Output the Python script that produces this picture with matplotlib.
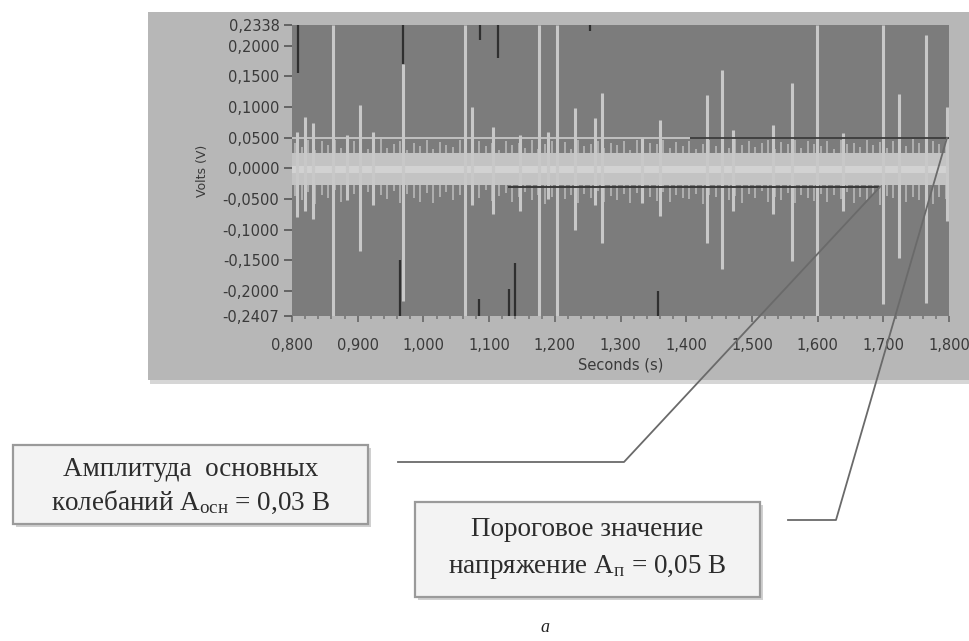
import numpy as np
import matplotlib
matplotlib.use("Agg")
import matplotlib.pyplot as plt
from matplotlib.patches import Rectangle
from matplotlib.lines import Line2D
from matplotlib.ticker import FixedLocator, MultipleLocator

plt.rcParams["mathtext.fontset"] = "custom"
plt.rcParams["mathtext.rm"] = "Liberation Serif"
plt.rcParams["mathtext.it"] = "Liberation Serif:italic"

# ---- data -------------------------------------------------------------
y_ticks = [0.2338, 0.2000, 0.1500, 0.1000, 0.0500, 0.0000,
           -0.0500, -0.1000, -0.1500, -0.2000, -0.2407]
y_labels = ["0,2338", "0,2000", "0,1500", "0,1000", "0,0500", "0,0000",
            "-0,0500", "-0,1000", "-0,1500", "-0,2000", "-0,2407"]
x_ticks = [0.8, 0.9, 1.0, 1.1, 1.2, 1.3, 1.4, 1.5, 1.6, 1.7, 1.8]
x_labels = ["0,800", "0,900", "1,000", "1,100", "1,200", "1,300",
            "1,400", "1,500", "1,600", "1,700", "1,800"]

# main impulses: time, upper and lower extent (V)
spike_t = [0.808, 0.820, 0.832, 0.862, 0.884, 0.904, 0.923, 0.969, 1.063,
           1.074, 1.106, 1.147, 1.176, 1.190, 1.203, 1.231, 1.261, 1.272,
           1.333, 1.360, 1.432, 1.455, 1.471, 1.532, 1.561, 1.599, 1.639,
           1.700, 1.724, 1.765, 1.797]
spike_hi = [0.060, 0.083, 0.074, 0.2338, 0.055, 0.103, 0.060, 0.170, 0.2338,
            0.100, 0.067, 0.054, 0.2338, 0.060, 0.2338, 0.098, 0.082, 0.123,
            0.050, 0.079, 0.120, 0.160, 0.062, 0.070, 0.139, 0.2338, 0.057,
            0.2338, 0.122, 0.218, 0.100]
spike_lo = [-0.080, -0.069, -0.082, -0.2407, -0.052, -0.134, -0.060, -0.216,
            -0.2407, -0.060, -0.074, -0.069, -0.2407, -0.050, -0.2407, -0.101,
            -0.060, -0.121, -0.057, -0.077, -0.121, -0.164, -0.069, -0.074,
            -0.151, -0.2407, -0.069, -0.221, -0.146, -0.219, -0.085]

# dark (negative-colour) fragments: time, start, end (V)
dark_t = [0.809, 0.969, 1.086, 1.114, 1.254, 0.964, 1.085, 1.130, 1.139, 1.357]
dark_a = [0.2338, 0.2338, 0.2338, 0.2338, 0.2338, -0.150, -0.213, -0.196, -0.155, -0.200]
dark_b = [0.155, 0.170, 0.210, 0.180, 0.224, -0.2407, -0.2407, -0.2407, -0.2407, -0.2407]

# ragged edge of the background oscillation band
fringe_t = np.arange(0.805, 1.800, 0.01)
fringe_hi = [0.042, 0.035, 0.046, 0.030, 0.044, 0.038, 0.047, 0.033, 0.040, 0.045,
             0.036, 0.031, 0.043, 0.048, 0.034, 0.039, 0.045, 0.030, 0.041, 0.037,
             0.046, 0.032, 0.043, 0.038, 0.035, 0.047, 0.040, 0.033, 0.044, 0.036,
             0.041, 0.030, 0.045, 0.038, 0.042, 0.034, 0.046, 0.031, 0.039, 0.044,
             0.037, 0.043, 0.032, 0.047, 0.036, 0.040, 0.045, 0.033, 0.041, 0.038,
             0.044, 0.030, 0.046, 0.035, 0.042, 0.039, 0.047, 0.034, 0.043, 0.037,
             0.045, 0.031, 0.040, 0.046, 0.036, 0.042, 0.033, 0.048, 0.038, 0.044,
             0.035, 0.041, 0.047, 0.032, 0.043, 0.039, 0.046, 0.034, 0.045, 0.040,
             0.037, 0.044, 0.031, 0.046, 0.039, 0.042, 0.035, 0.047, 0.038, 0.043,
             0.033, 0.045, 0.040, 0.036, 0.048, 0.041, 0.034, 0.044, 0.039, 0.046]
fringe_lo = [-0.045, -0.052, -0.038, -0.058, -0.043, -0.049, -0.036, -0.055, -0.047, -0.041,
             -0.053, -0.039, -0.060, -0.044, -0.050, -0.037, -0.056, -0.042, -0.048, -0.054,
             -0.040, -0.057, -0.046, -0.038, -0.051, -0.044, -0.059, -0.041, -0.049, -0.036,
             -0.053, -0.045, -0.040, -0.055, -0.047, -0.038, -0.052, -0.043, -0.058, -0.046,
             -0.039, -0.050, -0.044, -0.056, -0.041, -0.048, -0.037, -0.054, -0.045, -0.051,
             -0.042, -0.057, -0.040, -0.049, -0.046, -0.053, -0.038, -0.055, -0.043, -0.048,
             -0.050, -0.041, -0.058, -0.044, -0.047, -0.039, -0.052, -0.045, -0.056, -0.042,
             -0.049, -0.037, -0.054, -0.046, -0.051, -0.040, -0.057, -0.043, -0.048, -0.053,
             -0.041, -0.055, -0.044, -0.050, -0.038, -0.056, -0.046, -0.052, -0.042, -0.059,
             -0.045, -0.049, -0.040, -0.054, -0.047, -0.051, -0.043, -0.058, -0.046, -0.050]
band_hi, band_lo = 0.025, -0.027

threshold = 0.05          # Aп
threshold_split = 1.406
base_amp = -0.03          # Aосн
base_span = (1.129, 1.695)

# ---- figure ------------------------------------------------------------
W, H = 970, 641
fig = plt.figure(figsize=(W / 100, H / 100), dpi=100)
fig.patch.set_facecolor("white")


def fx(x):
    return x / W


def fy(y):
    return 1 - y / H


# grey instrument panel with a soft shadow
fig.add_artist(Rectangle((fx(150), fy(384)), fx(830), 372 / H,
                         transform=fig.transFigure, facecolor="#d6d6d6",
                         edgecolor="none", zorder=-2))
fig.add_artist(Rectangle((fx(148), fy(380)), fx(830), 368 / H,
                         transform=fig.transFigure, facecolor="#b7b7b7",
                         edgecolor="none", zorder=-1))

ax = fig.add_axes([fx(292), fy(316), 657 / W, 291 / H])
ax.set_facecolor("#7c7c7c")
ax.set_xlim(0.8, 1.8)
ax.set_ylim(-0.2407, 0.2338)

# background oscillation band
ax.vlines(fringe_t, 0, fringe_hi, colors="#b4b4b4", lw=1.3, zorder=1)
ax.vlines(fringe_t, 0, fringe_lo, colors="#b4b4b4", lw=1.3, zorder=1)
ax.fill_between([0.8, 1.8], band_lo, band_hi, color="#c3c3c3", lw=0, zorder=2)
ax.fill_between([0.8, 1.8], -0.008, 0.004, color="#d2d2d2", lw=0, zorder=2)

# impulses
ax.vlines(spike_t, 0, spike_hi, colors="#c8c8c8", lw=2.2, zorder=3)
ax.vlines(spike_t, 0, spike_lo, colors="#c8c8c8", lw=2.2, zorder=3)
ax.vlines(dark_t, dark_a, dark_b, colors="#2f2f2f", lw=1.6, zorder=4)

# threshold and base amplitude levels
ax.hlines(threshold, 0.8, threshold_split, colors="#c6c6c6", lw=1.3, zorder=5)
ax.hlines(threshold, threshold_split, 1.8, colors="#3c3c3c", lw=1.3, zorder=5)
ax.hlines(base_amp, *base_span, colors="#3a3a3a", lw=1.4, zorder=5)

for s in ax.spines.values():
    s.set_visible(False)

ax.yaxis.set_major_locator(FixedLocator(y_ticks))
ax.set_yticklabels(y_labels)
ax.xaxis.set_major_locator(FixedLocator(x_ticks))
ax.set_xticklabels(x_labels)
ax.xaxis.set_minor_locator(MultipleLocator(0.02))
ax.tick_params(axis="y", length=6, width=1.2, color="#555555", pad=3,
               labelsize=10.5, labelcolor="#3a3a3a")
ax.tick_params(axis="x", which="major", length=4, width=1.2, color="#666666",
               pad=12, labelsize=10.5, labelcolor="#3a3a3a")
ax.tick_params(axis="x", which="minor", length=2.5, width=1.2, color="#777777")
ax.set_ylabel("Volts (V)", fontsize=9, color="#3a3a3a", labelpad=10)
ax.set_xlabel("Seconds (s)", fontsize=10.5, color="#3a3a3a", labelpad=3)

# ---- callouts ------------------------------------------------------------
to_fig = fig.transFigure.inverted()


def data_to_fig(x, y):
    return to_fig.transform(ax.transData.transform((x, y)))


def callout(start_px, knee_px, data_pt):
    end = data_to_fig(*data_pt)
    xs = [fx(start_px[0]), fx(knee_px[0]), end[0]]
    ys = [fy(start_px[1]), fy(knee_px[1]), end[1]]
    fig.add_artist(Line2D(xs, ys, transform=fig.transFigure, color="#6a6a6a",
                          lw=1.3, zorder=6))


callout((398, 462), (624, 462), (base_span[1], base_amp))
callout((788, 520), (836, 520), (1.797, threshold))


def box(x0, y0, x1, y1, lines):
    fig.add_artist(Rectangle((fx(x0 + 3), fy(y1 + 3)), fx(x1 - x0), (y1 - y0) / H,
                             transform=fig.transFigure, facecolor="#d0d0d0",
                             edgecolor="none", zorder=6))
    fig.add_artist(Rectangle((fx(x0), fy(y1)), fx(x1 - x0), (y1 - y0) / H,
                             transform=fig.transFigure, facecolor="#f3f3f3",
                             edgecolor="#9a9a9a", lw=1.6, zorder=7))
    cx = (x0 + x1) / 2
    for ty, txt in lines:
        fig.text(fx(cx), fy(ty), txt, ha="center", va="center", fontsize=19.5,
                 family="Liberation Serif", color="#2c2c2c", zorder=8)


box(13, 445, 368, 524, [(470, "Амплитуда  основных"),
                        (502, r"колебаний А$_{\mathrm{осн}}$ = 0,03 В")])
box(415, 502, 760, 597, [(530, "Пороговое значение"),
                         (567, r"напряжение А$_{\mathrm{п}}$ = 0,05 В")])

fig.text(fx(545), fy(628), "a", ha="center", va="center", fontsize=13,
         family="Liberation Serif", style="italic", color="#222222")

fig.savefig("out.png", dpi=100)
